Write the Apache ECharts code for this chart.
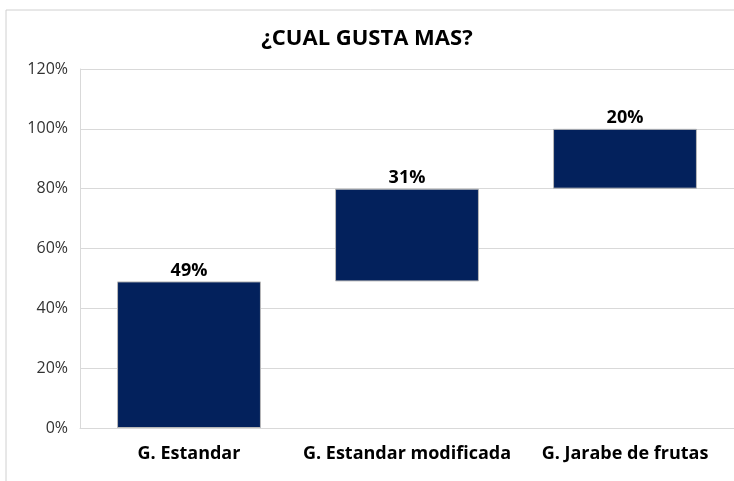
<!DOCTYPE html>
<html>
<head>
<meta charset="utf-8">
<script src="https://cdn.jsdelivr.net/npm/echarts@6/dist/echarts.min.js"></script>
<style>
  html, body { margin: 0; padding: 0; background: #fff; }
  #main { width: 734px; height: 481px; }
</style>
</head>
<body>
<div id="main"></div>
<script>
// datos del grafico
var categorias = ['G. Estandar', 'G. Estandar modificada', 'G. Jarabe de frutas'];
var valores = [49, 31, 20];      // porcentaje de cada opcion
var base = [0, 49, 80];          // inicio de cada barra (cascada)
var titulo = '¿CUAL GUSTA MAS?';

var chart = echarts.init(document.getElementById('main'));

var option = {
  backgroundColor: '#fff',
  animation: false,
  title: {
    text: titulo,
    left: 'center',
    top: 23,
    textStyle: { fontFamily: 'Open Sans', fontSize: 22, fontWeight: 'bold', color: '#000' }
  },
  graphic: [{
    type: 'rect',
    shape: { x: 6, y: 10, width: 740, height: 480 },
    style: { fill: 'none', stroke: '#d0d0d0', lineWidth: 1 },
    silent: true
  }],
  grid: { left: 80, right: 0, top: 69, bottom: 53 },
  xAxis: {
    type: 'category',
    data: categorias,
    axisLine: { show: true, lineStyle: { color: '#d9d9d9' } },
    axisTick: { show: false },
    axisLabel: {
      interval: 0,
      hideOverlap: false,
      fontFamily: 'Open Sans', fontSize: 18, fontWeight: 'bold', color: '#000', margin: 17
    }
  },
  yAxis: {
    type: 'value',
    min: 0,
    max: 120,
    interval: 20,
    axisLine: { show: true, lineStyle: { color: '#d9d9d9' } },
    axisTick: { show: false },
    splitLine: { lineStyle: { color: '#d9d9d9' } },
    axisLabel: {
      formatter: '{value}%',
      fontFamily: 'Open Sans', fontSize: 16, color: '#333', margin: 12
    }
  },
  series: [{
    type: 'bar',
    stack: 'total',
    data: base,
    barWidth: '66%',
    itemStyle: { color: 'transparent' },
    silent: true
  }, {
    type: 'bar',
    stack: 'total',
    data: valores,
    barWidth: '66%',
    itemStyle: { color: '#03215c', borderColor: '#b8b8b8', borderWidth: 1 },
    label: {
      show: true,
      position: 'top',
      formatter: '{c}%',
      fontFamily: 'Open Sans', fontSize: 18, fontWeight: 'bold', color: '#000',
      distance: 2
    }
  }]
};

chart.setOption(option);
</script>
</body>
</html>
